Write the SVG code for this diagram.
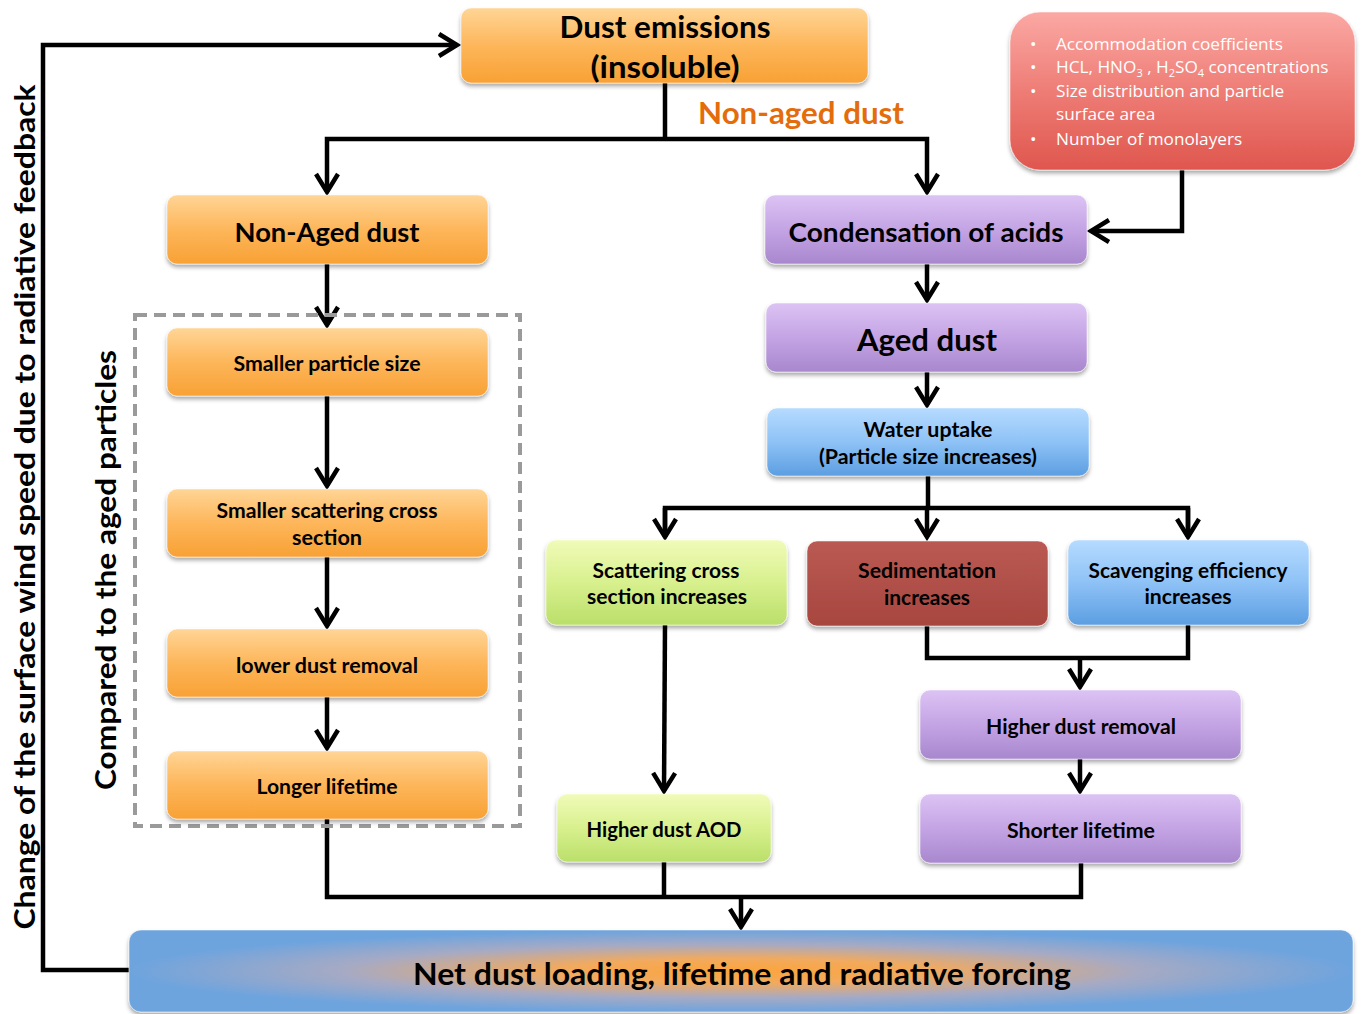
<svg xmlns="http://www.w3.org/2000/svg" width="1365" height="1014" viewBox="0 0 1365 1014">
<defs>
<linearGradient id="gOr" x1="0" y1="0" x2="0" y2="1"><stop offset="0" stop-color="#FFD596"/><stop offset="0.5" stop-color="#FDB65A"/><stop offset="1" stop-color="#F8A135"/></linearGradient>
<linearGradient id="gPu" x1="0" y1="0" x2="0" y2="1"><stop offset="0" stop-color="#DCC3F4"/><stop offset="0.5" stop-color="#C4A4E4"/><stop offset="1" stop-color="#A887CE"/></linearGradient>
<linearGradient id="gBl" x1="0" y1="0" x2="0" y2="1"><stop offset="0" stop-color="#B6DBFF"/><stop offset="0.5" stop-color="#8EC2F6"/><stop offset="1" stop-color="#5C9EE2"/></linearGradient>
<linearGradient id="gGr" x1="0" y1="0" x2="0" y2="1"><stop offset="0" stop-color="#F0FBB8"/><stop offset="0.5" stop-color="#D8F08E"/><stop offset="1" stop-color="#BADF6A"/></linearGradient>
<linearGradient id="gRd" x1="0" y1="0" x2="0" y2="1"><stop offset="0" stop-color="#BA5A53"/><stop offset="1" stop-color="#A7463F"/></linearGradient>
<linearGradient id="gPk" x1="0" y1="0" x2="0" y2="1"><stop offset="0" stop-color="#FBA8A4"/><stop offset="0.5" stop-color="#EE7D76"/><stop offset="1" stop-color="#DF564E"/></linearGradient>
<radialGradient id="gNet" cx="0.5" cy="0.5" r="0.5"><stop offset="0" stop-color="#FCA43C"/><stop offset="0.3" stop-color="#F2AA5E"/><stop offset="0.65" stop-color="#A6AAC4"/><stop offset="1" stop-color="#6EA4DE"/></radialGradient>
<filter id="sh" x="-10%" y="-10%" width="120%" height="140%"><feDropShadow dx="0" dy="3" stdDeviation="2" flood-color="#000" flood-opacity="0.35"/></filter>
<marker id="ah" markerUnits="userSpaceOnUse" markerWidth="30" markerHeight="30" refX="19" refY="12" orient="auto" overflow="visible"><path d="M1,1 L19,12 L1,23" fill="none" stroke="#000" stroke-width="4.5" stroke-linejoin="miter"/></marker>
</defs>
<style>
.box{stroke:#fff;stroke-opacity:0.5;stroke-width:1;filter:url(#sh)}
.t{font-family:Lato,"Open Sans","Liberation Sans",sans-serif;font-weight:bold;fill:#000;text-anchor:middle}
.c{fill:none;stroke:#000;stroke-width:4.5}
.w{font-family:"Open Sans",Lato,"Liberation Sans",sans-serif;font-size:17.2px;fill:#fff}
</style>
<rect width="1365" height="1014" fill="#fff"/>

<g id="connectors">
<polyline class="c" points="129,970 43,970 43,45 457,45" marker-end="url(#ah)"/>
<polyline class="c" points="665,83 665,139"/>
<polyline class="c" points="665,139 327,139 327,192" marker-end="url(#ah)"/>
<polyline class="c" points="665,139 927,139 927,192" marker-end="url(#ah)"/>
<polyline class="c" points="1182,170 1182,231 1091,231" marker-end="url(#ah)"/>
<line class="c" x1="327" y1="264" x2="327" y2="325" marker-end="url(#ah)"/>
<line class="c" x1="327" y1="396" x2="327" y2="486" marker-end="url(#ah)"/>
<line class="c" x1="327" y1="557" x2="327" y2="626" marker-end="url(#ah)"/>
<line class="c" x1="327" y1="697" x2="327" y2="748" marker-end="url(#ah)"/>
<line class="c" x1="927" y1="264" x2="927" y2="300" marker-end="url(#ah)"/>
<line class="c" x1="927" y1="372" x2="927" y2="405" marker-end="url(#ah)"/>
<polyline class="c" points="928,476 928,508"/>
<polyline class="c" points="665,537 665,508 1188,508 1188,537"/>
<line class="c" x1="665" y1="508" x2="665" y2="537" marker-end="url(#ah)"/>
<line class="c" x1="927" y1="508" x2="927" y2="537" marker-end="url(#ah)"/>
<line class="c" x1="1188" y1="508" x2="1188" y2="537" marker-end="url(#ah)"/>
<line class="c" x1="665" y1="625" x2="664" y2="791" marker-end="url(#ah)"/>
<polyline class="c" points="927,626 927,658 1188,658 1188,625"/>
<line class="c" x1="1080" y1="658" x2="1080" y2="687" marker-end="url(#ah)"/>
<line class="c" x1="1080" y1="759" x2="1080" y2="791" marker-end="url(#ah)"/>
<polyline class="c" points="327,819 327,897 1081,897 1081,863"/>
<line class="c" x1="664" y1="862" x2="664" y2="897"/>
<line class="c" x1="741" y1="897" x2="741" y2="927" marker-end="url(#ah)"/>
</g>

<g id="dust-emissions"><rect class="box" x="461" y="8" width="407" height="75" rx="10" fill="url(#gOr)"/>
<text class="t" x="665" y="38" font-size="30.5" textLength="211" lengthAdjust="spacingAndGlyphs">Dust emissions</text><text class="t" x="665" y="78" font-size="30.5" textLength="149" lengthAdjust="spacingAndGlyphs">(insoluble)</text></g>

<g id="label-non-aged"><text x="801" y="124" font-family="Lato,'Open Sans','Liberation Sans',sans-serif" font-weight="bold" font-size="30" fill="#E46C0A" text-anchor="middle" textLength="206" lengthAdjust="spacingAndGlyphs">Non-aged dust</text></g>

<g id="factors"><rect class="box" x="1010" y="12" width="345" height="158" rx="30" fill="url(#gPk)"/>
<g class="w">
<text x="1030" y="50">•</text><text x="1056" y="50">Accommodation coefficients</text>
<text x="1030" y="73">•</text><text x="1056" y="73">HCL, HNO<tspan font-size="11" dy="4">3</tspan><tspan dy="-4"> , H</tspan><tspan font-size="11" dy="4">2</tspan><tspan dy="-4">SO</tspan><tspan font-size="11" dy="4">4</tspan><tspan dy="-4"> concentrations</tspan></text>
<text x="1030" y="97">•</text><text x="1056" y="97">Size distribution and particle</text>
<text x="1056" y="120">surface area</text>
<text x="1030" y="145">•</text><text x="1056" y="145">Number of monolayers</text>
</g></g>

<g id="non-aged-dust"><rect class="box" x="167" y="195" width="321" height="69" rx="10" fill="url(#gOr)"/><text class="t" x="327" y="242" font-size="27.5" textLength="185" lengthAdjust="spacingAndGlyphs">Non-Aged dust</text></g>
<g id="condensation"><rect class="box" x="765" y="195" width="322" height="69" rx="10" fill="url(#gPu)"/><text class="t" x="926" y="242" font-size="27.5" textLength="275" lengthAdjust="spacingAndGlyphs">Condensation of acids</text></g>
<g id="aged-dust"><rect class="box" x="766" y="303" width="321" height="69" rx="10" fill="url(#gPu)"/><text class="t" x="927" y="351" font-size="30.5" textLength="140" lengthAdjust="spacingAndGlyphs">Aged dust</text></g>
<g id="water-uptake"><rect class="box" x="767" y="408" width="322" height="68" rx="10" fill="url(#gBl)"/><text class="t" x="928" y="437" font-size="20.5" textLength="129" lengthAdjust="spacingAndGlyphs">Water uptake</text><text class="t" x="928" y="464" font-size="20.5" textLength="218" lengthAdjust="spacingAndGlyphs">(Particle size increases)</text></g>

<g id="dashed-group"><rect x="135" y="315" width="385" height="511" fill="none" stroke="#9A9A9A" stroke-width="4" stroke-dasharray="12,7"/></g>
<g id="smaller-size"><rect class="box" x="167" y="328" width="321" height="68" rx="10" fill="url(#gOr)"/><text class="t" x="327" y="371" font-size="20.5" textLength="187" lengthAdjust="spacingAndGlyphs">Smaller particle size</text></g>
<g id="smaller-scattering"><rect class="box" x="167" y="489" width="321" height="68" rx="10" fill="url(#gOr)"/><text class="t" x="327" y="518" font-size="20.5" textLength="221" lengthAdjust="spacingAndGlyphs">Smaller scattering cross</text><text class="t" x="327" y="545" font-size="20.5" textLength="70" lengthAdjust="spacingAndGlyphs">section</text></g>
<g id="lower-removal"><rect class="box" x="167" y="629" width="321" height="68" rx="10" fill="url(#gOr)"/><text class="t" x="327" y="673" font-size="20.5" textLength="182" lengthAdjust="spacingAndGlyphs">lower dust removal</text></g>
<g id="longer-lifetime"><rect class="box" x="167" y="751" width="321" height="68" rx="10" fill="url(#gOr)"/><text class="t" x="327" y="794" font-size="20.5" textLength="141" lengthAdjust="spacingAndGlyphs">Longer lifetime</text></g>

<g id="scattering-inc"><rect class="box" x="546" y="540" width="241" height="85" rx="10" fill="url(#gGr)"/><text class="t" x="666" y="578" font-size="20.5" textLength="147" lengthAdjust="spacingAndGlyphs">Scattering cross</text><text class="t" x="667" y="604" font-size="20.5" textLength="160" lengthAdjust="spacingAndGlyphs">section increases</text></g>
<g id="sedimentation"><rect class="box" x="807" y="541" width="241" height="85" rx="10" fill="url(#gRd)"/><text class="t" x="927" y="578" font-size="20.5" textLength="138" lengthAdjust="spacingAndGlyphs">Sedimentation</text><text class="t" x="927" y="605" font-size="20.5" textLength="86" lengthAdjust="spacingAndGlyphs">increases</text></g>
<g id="scavenging"><rect class="box" x="1068" y="540" width="241" height="85" rx="10" fill="url(#gBl)"/><text class="t" x="1188" y="578" font-size="20.5" textLength="199" lengthAdjust="spacingAndGlyphs">Scavenging efficiency</text><text class="t" x="1188" y="604" font-size="20.5" textLength="87" lengthAdjust="spacingAndGlyphs">increases</text></g>

<g id="higher-removal"><rect class="box" x="920" y="690" width="321" height="69" rx="10" fill="url(#gPu)"/><text class="t" x="1081" y="734" font-size="20.5" textLength="190" lengthAdjust="spacingAndGlyphs">Higher dust removal</text></g>
<g id="shorter-lifetime"><rect class="box" x="920" y="794" width="321" height="69" rx="10" fill="url(#gPu)"/><text class="t" x="1081" y="838" font-size="20.5" textLength="148" lengthAdjust="spacingAndGlyphs">Shorter lifetime</text></g>
<g id="higher-aod"><rect class="box" x="557" y="794" width="214" height="68" rx="10" fill="url(#gGr)"/><text class="t" x="664" y="837" font-size="20.5" textLength="155" lengthAdjust="spacingAndGlyphs">Higher dust AOD</text></g>

<g id="net-dust"><rect class="box" x="129" y="930" width="1224" height="82" rx="12" fill="url(#gNet)"/><text class="t" x="742" y="985" font-size="29.5" textLength="658" lengthAdjust="spacingAndGlyphs">Net dust loading, lifetime and radiative forcing</text></g>

<g id="side-labels">
<text class="t" transform="translate(35,507) rotate(-90)" font-size="29" textLength="845" lengthAdjust="spacingAndGlyphs">Change of the surface wind speed due to radiative feedback</text>
<text class="t" transform="translate(116,570) rotate(-90)" font-size="28" textLength="440" lengthAdjust="spacingAndGlyphs">Compared to the aged particles</text>
</g>
</svg>
